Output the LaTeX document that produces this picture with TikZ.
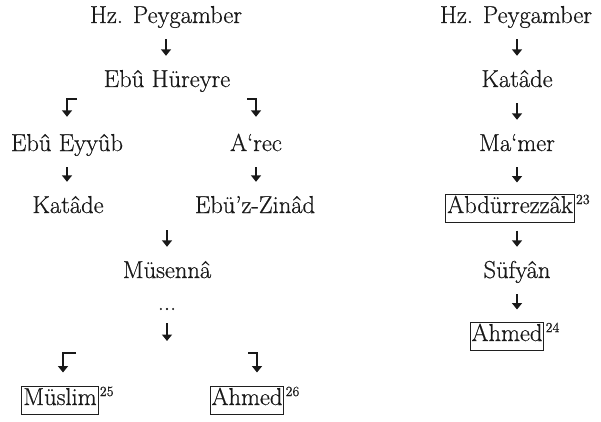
\documentclass[tikz,border=0pt]{standalone}
\usepackage{fontspec}
\setmainfont{Latin Modern Roman}[FakeBold=0.6]
\usetikzlibrary{arrows.meta}
\begin{document}
\begin{tikzpicture}[x=1pt,y=-1pt,
  txt/.style={font=\fontsize{24.5}{28}\selectfont, inner sep=0pt, text height=16.5pt, text depth=5pt, anchor=base, text=black!90},
  boxed/.style={txt, draw=black!88, line width=1pt, inner xsep=1.5pt, inner ysep=2.5pt, text depth=6.5pt},
  supnum/.style={font=\fontsize{14}{16}\selectfont, inner sep=0pt, anchor=north west, text=black!90},
  arr/.style 2 args={draw=black!90, line width=1.8pt, -{Triangle[width=10pt,length=6.5pt]}, shorten <=#1, shorten >=#2}
]
\useasboundingbox (0,0) rectangle (601,422);
% left tree
\node[txt] (hz1) at (166,23) {Hz. Peygamber};
\node[txt] (ebh) at (167,87) {Ebû Hüreyre};
\node[txt] (eyy) at (67,151) {Ebû Eyyûb};
\node[txt] (arec) at (256,151) {A‘rec};
\node[txt] (kat1) at (68,213) {Katâde};
\node[txt] (zin) at (255,213) {Ebü’z-Zinâd};
\node[txt] (mus) at (167,278) {Müsennâ};
\node[txt] (dots) at (167,310) {...};
\node[boxed] (musl) at (60,405) {Müslim};
\node[boxed] (ahm1) at (247,405) {Ahmed};
\node[supnum] (s25) at ([xshift=1pt,yshift=-1pt]musl.north east) {25};
\node[supnum] (s26) at ([xshift=1pt,yshift=-1pt]ahm1.north east) {26};
% right chain
\node[txt] (hz2) at (516,23) {Hz. Peygamber};
\node[txt] (kat2) at (517,87) {Katâde};
\node[txt] (mamer) at (517,151) {Ma‘mer};
\node[boxed] (abd) at (510,213) {Abdürrezzâk};
\node[txt] (suf) at (517,278) {Süfyân};
\node[boxed] (ahm2) at (507,341) {Ahmed};
\node[supnum] (s23) at ([xshift=1pt,yshift=-1pt]abd.north east) {23};
\node[supnum] (s24) at ([xshift=1pt,yshift=-1pt]ahm2.north east) {24};
% coordinates
\coordinate (cl1) at (77,99);
\coordinate (cr1) at (247,99);
\coordinate (mrg) at (167,230);
\coordinate (split) at (167,341);
\coordinate (cl2) at (76,353);
\coordinate (cr2) at (248,353);
% connectors left
\draw[arr={11pt}{14.5pt}] (hz1.south) -- (hz1.south |- ebh.north);
\draw[arr={0pt}{17.5pt}] (cl1) -| (eyy.north);
\draw[arr={0pt}{17.5pt}] (cr1) -| (arec.north);
\draw[arr={11pt}{14.5pt}] (eyy.south) -- (eyy.south |- kat1.north);
\draw[arr={11pt}{14.5pt}] (arec.south) -- (arec.south |- zin.north);
\draw[arr={0pt}{14.5pt}] (mrg) -- (mus.north);
\draw[arr={8pt}{0pt}] (dots.south) -- (split);
\draw[arr={0pt}{13pt}] (cl2) -| ([xshift=3pt]musl.north);
\draw[arr={0pt}{13pt}] (cr2) -| ([xshift=10pt]ahm1.north);
% connectors right
\draw[arr={11pt}{14.5pt}] (kat2.south |- hz2.south) -- (kat2.north);
\draw[arr={11pt}{14.5pt}] (kat2.south) -- (mamer.north);
\draw[arr={11pt}{11pt}] (mamer.south) -- (mamer.south |- abd.north);
\draw[arr={8pt}{14.5pt}] (suf.south |- abd.south) -- (suf.north);
\draw[arr={11pt}{12pt}] (suf.south) -- (suf.south |- ahm2.north);
\end{tikzpicture}
\end{document}
